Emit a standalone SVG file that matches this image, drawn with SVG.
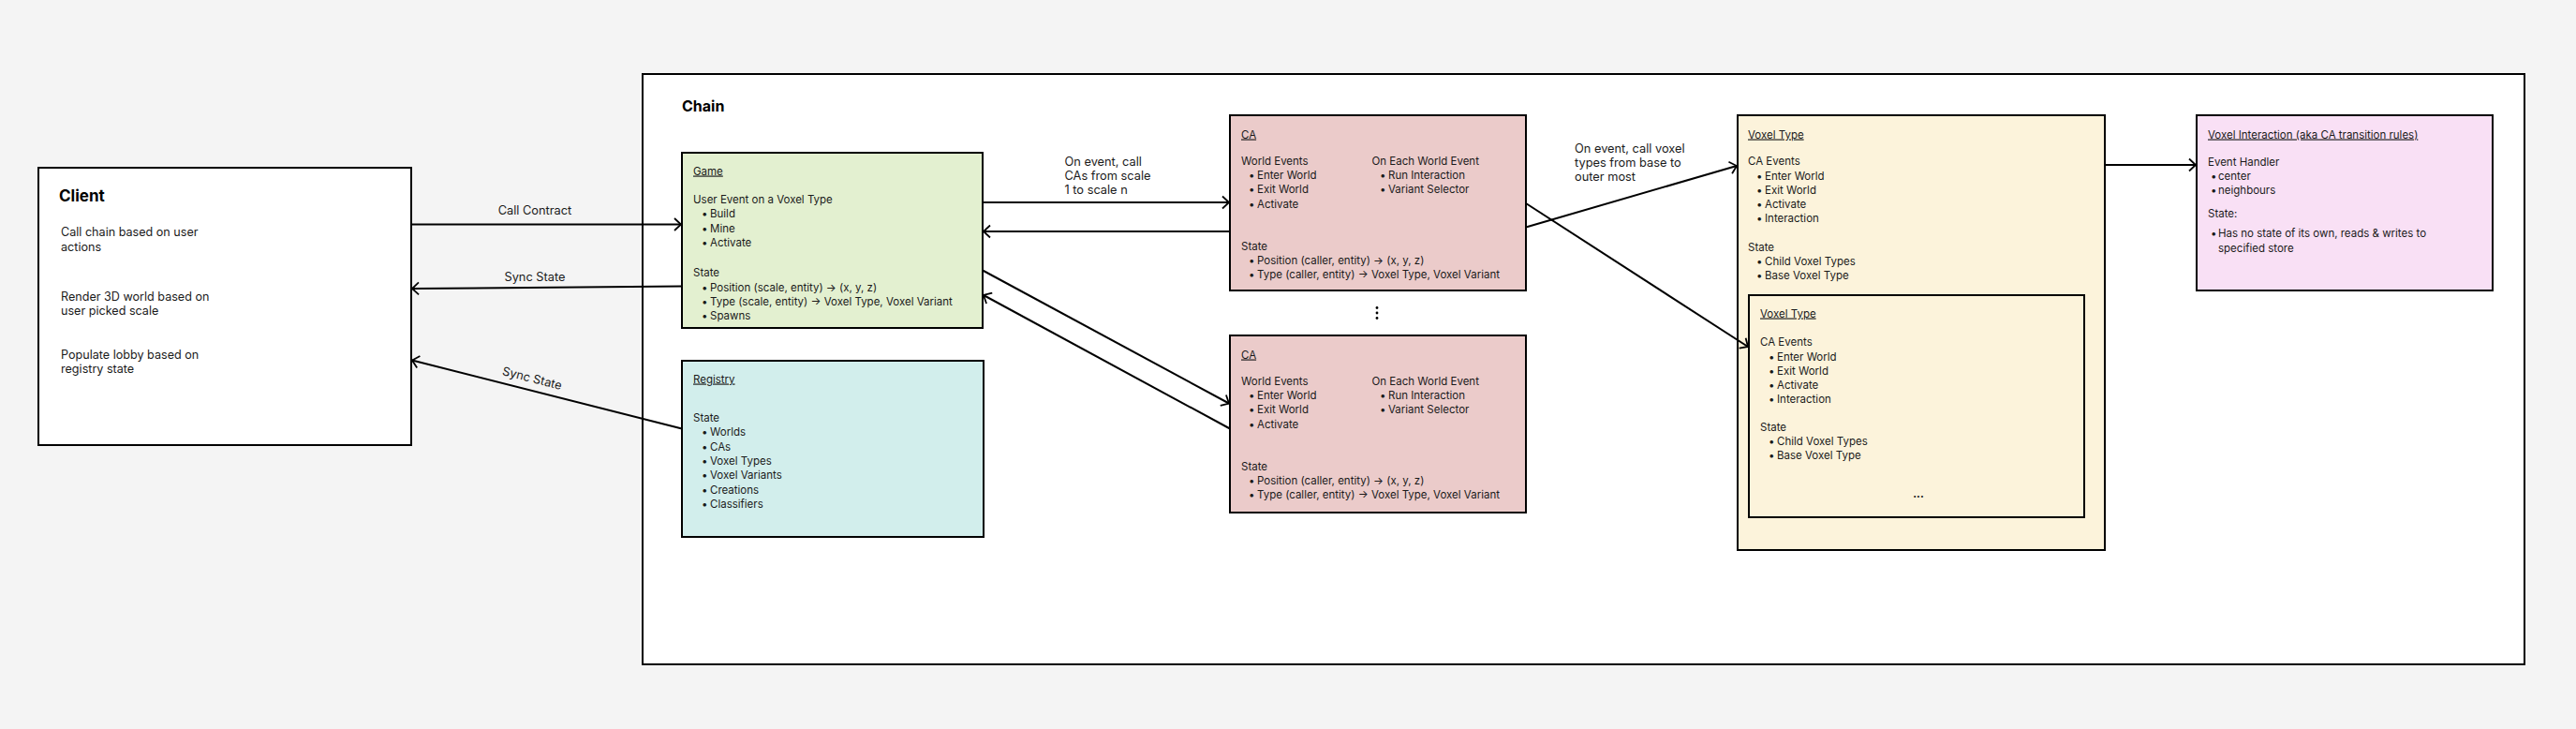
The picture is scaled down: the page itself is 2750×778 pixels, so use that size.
<svg xmlns="http://www.w3.org/2000/svg" width="2750" height="778" viewBox="0 0 2750 778">
<defs>
<style>
text{font-family:Inter,"Liberation Sans",sans-serif;fill:#1a1a1a;font-size:11.5px}
.t{font-size:12.6px}
.l{font-size:12.8px}
.h{font-weight:bold;font-size:17px;fill:#000}
.u{text-decoration:underline}
.box{stroke:#000;stroke-width:2}
.ln{stroke:#000;stroke-width:2;fill:none}
.mid{text-anchor:middle}
</style>
<marker id="ah" viewBox="-10 -8 12 16" refX="0" refY="0" markerWidth="12" markerHeight="16" markerUnits="userSpaceOnUse" orient="auto">
<path d="M-7,-6.5 L0,0 L-7,6.5" fill="none" stroke="#000" stroke-width="1.8"/>
</marker>
</defs>
<rect width="2750" height="778" fill="#f4f4f4"/>

<g id="chain">
<rect class="box" x="686" y="79" width="2009" height="630" fill="#fff"/>
<text class="h" x="728" y="119" style="font-size:16px">Chain</text>
</g>

<g id="client">
<rect class="box" x="41" y="179" width="398" height="296" fill="#fff"/>
<text class="h" x="63" y="215">Client</text>
<text class="t" x="65" y="252">Call chain based on user</text>
<text class="t" x="65" y="267.5">actions</text>
<text class="t" x="65" y="321">Render 3D world based on</text>
<text class="t" x="65" y="336">user picked scale</text>
<text class="t" x="65" y="383">Populate lobby based on</text>
<text class="t" x="65" y="398">registry state</text>
</g>

<g id="game">
<rect class="box" x="728" y="163" width="321" height="187" fill="#e3f0d0"/>
<text class="u" x="740" y="186.5">Game</text>
<text x="740" y="216.5">User Event on a Voxel Type</text>
<text x="749" y="232">•</text><text x="758" y="232">Build</text>
<text x="749" y="247.5">•</text><text x="758" y="247.5">Mine</text>
<text x="749" y="262.5">•</text><text x="758" y="262.5">Activate</text>
<text x="740" y="295">State</text>
<text x="749" y="310.5">•</text><text x="758" y="310.5">Position (scale, entity) → (x, y, z)</text>
<text x="749" y="325.5">•</text><text x="758" y="325.5">Type (scale, entity) → Voxel Type, Voxel Variant</text>
<text x="749" y="341">•</text><text x="758" y="341">Spawns</text>
</g>

<g id="registry">
<rect class="box" x="728" y="385" width="322" height="188" fill="#d2eeec"/>
<text class="u" x="740" y="408.5">Registry</text>
<text x="740" y="450">State</text>
<text x="749" y="465">•</text><text x="758" y="465">Worlds</text>
<text x="749" y="480.5">•</text><text x="758" y="480.5">CAs</text>
<text x="749" y="495.5">•</text><text x="758" y="495.5">Voxel Types</text>
<text x="749" y="511">•</text><text x="758" y="511">Voxel Variants</text>
<text x="749" y="526.5">•</text><text x="758" y="526.5">Creations</text>
<text x="749" y="541.5">•</text><text x="758" y="541.5">Classifiers</text>
</g>

<g id="ca1">
<rect class="box" x="1313" y="123" width="316" height="187" fill="#ebcbca"/>
<text class="u" x="1325" y="147.5">CA</text>
<text x="1325" y="176">World Events</text>
<text x="1333" y="191">•</text><text x="1342" y="191">Enter World</text>
<text x="1333" y="206">•</text><text x="1342" y="206">Exit World</text>
<text x="1333" y="222">•</text><text x="1342" y="222">Activate</text>
<text x="1464.5" y="175.5">On Each World Event</text>
<text x="1473" y="191">•</text><text x="1482" y="191">Run Interaction</text>
<text x="1473" y="206">•</text><text x="1482" y="206">Variant Selector</text>
<text x="1325" y="267">State</text>
<text x="1333" y="282">•</text><text x="1342" y="282">Position (caller, entity) → (x, y, z)</text>
<text x="1333" y="297">•</text><text x="1342" y="297">Type (caller, entity) → Voxel Type, Voxel Variant</text>
</g>

<g id="dots">
<circle cx="1470" cy="328.5" r="1.4" fill="#000"/>
<circle cx="1470" cy="334" r="1.4" fill="#000"/>
<circle cx="1470" cy="339.5" r="1.4" fill="#000"/>
</g>

<g id="ca2">
<rect class="box" x="1313" y="358" width="316" height="189" fill="#ebcbca"/>
<text class="u" x="1325" y="382.5">CA</text>
<text x="1325" y="411">World Events</text>
<text x="1333" y="426">•</text><text x="1342" y="426">Enter World</text>
<text x="1333" y="441">•</text><text x="1342" y="441">Exit World</text>
<text x="1333" y="457">•</text><text x="1342" y="457">Activate</text>
<text x="1464.5" y="410.5">On Each World Event</text>
<text x="1473" y="426">•</text><text x="1482" y="426">Run Interaction</text>
<text x="1473" y="441">•</text><text x="1482" y="441">Variant Selector</text>
<text x="1325" y="502">State</text>
<text x="1333" y="517">•</text><text x="1342" y="517">Position (caller, entity) → (x, y, z)</text>
<text x="1333" y="532">•</text><text x="1342" y="532">Type (caller, entity) → Voxel Type, Voxel Variant</text>
</g>

<g id="voxeltype">
<rect class="box" x="1855" y="123" width="392" height="464" fill="#fcf3db"/>
<text class="u" x="1866" y="147.5">Voxel Type</text>
<text x="1866" y="176">CA Events</text>
<text x="1875" y="191.5">•</text><text x="1884" y="191.5">Enter World</text>
<text x="1875" y="206.5">•</text><text x="1884" y="206.5">Exit World</text>
<text x="1875" y="222">•</text><text x="1884" y="222">Activate</text>
<text x="1875" y="237">•</text><text x="1884" y="237">Interaction</text>
<text x="1866" y="267.5">State</text>
<text x="1875" y="282.5">•</text><text x="1884" y="282.5">Child Voxel Types</text>
<text x="1875" y="298">•</text><text x="1884" y="298">Base Voxel Type</text>
</g>

<g id="voxeltype-inner">
<rect class="box" x="1867" y="315" width="358" height="237" fill="#fcf3db"/>
<text class="u" x="1879" y="338.5">Voxel Type</text>
<text x="1879" y="369">CA Events</text>
<text x="1888" y="384.5">•</text><text x="1897" y="384.5">Enter World</text>
<text x="1888" y="399.5">•</text><text x="1897" y="399.5">Exit World</text>
<text x="1888" y="415">•</text><text x="1897" y="415">Activate</text>
<text x="1888" y="430">•</text><text x="1897" y="430">Interaction</text>
<text x="1879" y="459.5">State</text>
<text x="1888" y="475">•</text><text x="1897" y="475">Child Voxel Types</text>
<text x="1888" y="490">•</text><text x="1897" y="490">Base Voxel Type</text>
<text class="mid" x="2048" y="531" style="font-weight:bold">...</text>
</g>

<g id="voxelinteraction">
<rect class="box" x="2345" y="123" width="316" height="187" fill="#f9e0f5"/>
<text class="u" x="2357" y="147.5">Voxel Interaction (aka CA transition rules)</text>
<text x="2357" y="176.5">Event Handler</text>
<text x="2360" y="191.5">•</text><text x="2368" y="191.5">center</text>
<text x="2360" y="207">•</text><text x="2368" y="207">neighbours</text>
<text x="2357" y="231.5">State:</text>
<text x="2360" y="253">•</text><text x="2368" y="253">Has no state of its own, reads &amp; writes to</text>
<text x="2368" y="268.5">specified store</text>
</g>

<g id="connectors">
<line class="ln" x1="439" y1="239.5" x2="727" y2="239.5" marker-end="url(#ah)"/>
<text class="mid l" x="571" y="229">Call Contract</text>
<line class="ln" x1="728" y1="305.5" x2="440" y2="308" marker-end="url(#ah)"/>
<text class="mid l" x="571" y="300">Sync State</text>
<line class="ln" x1="728" y1="457.5" x2="440" y2="384.5" marker-end="url(#ah)"/>
<text class="mid l" x="0" y="0" transform="translate(567,408) rotate(14.2)">Sync State</text>
<line class="ln" x1="1049" y1="216" x2="1312" y2="216" marker-end="url(#ah)"/>
<line class="ln" x1="1313" y1="247" x2="1050" y2="247" marker-end="url(#ah)"/>
<text class="l" x="1136.5" y="176.5">On event, call</text>
<text class="l" x="1136.5" y="191.5">CAs from scale</text>
<text class="l" x="1136.5" y="206.5">1 to scale n</text>
<line class="ln" x1="1049" y1="288.5" x2="1312" y2="430.5" marker-end="url(#ah)"/>
<line class="ln" x1="1313" y1="457.5" x2="1050" y2="315" marker-end="url(#ah)"/>
<line class="ln" x1="1629" y1="242.5" x2="1854" y2="177" marker-end="url(#ah)"/>
<line class="ln" x1="1629" y1="217" x2="1866" y2="370" marker-end="url(#ah)"/>
<text class="l" x="1681" y="163">On event, call voxel</text>
<text class="l" x="1681" y="178">types from base to</text>
<text class="l" x="1681" y="193">outer most</text>
<line class="ln" x1="2247" y1="176" x2="2344" y2="176" marker-end="url(#ah)"/>
</g>
</svg>
